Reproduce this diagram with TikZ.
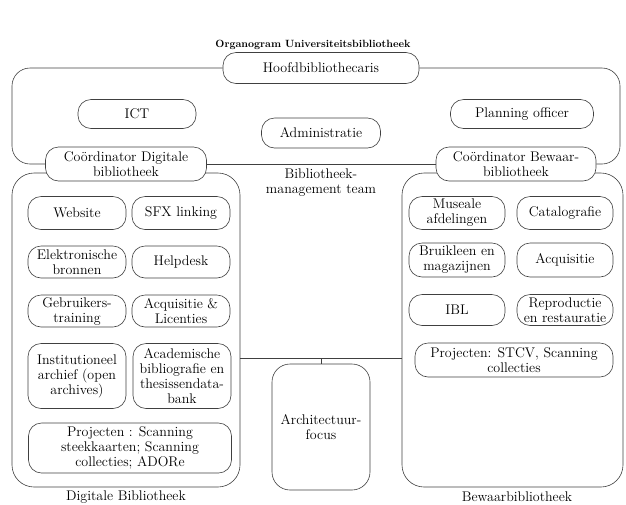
\documentclass[tikz,border=0pt]{standalone}
\usepackage{fontspec}
\newcommand\orgfont{\fontsize{14}{15}\selectfont}
\begin{document}
\begin{tikzpicture}[x=1pt,y=-1pt, line width=0.6pt,
  box/.style={draw=black!75, fill=white, rounded corners=13pt, align=center, inner sep=1pt, font=\orgfont},
  frame/.style={draw=black!75, rounded corners=22pt, inner sep=0pt},
  lbl/.style={align=center, font=\orgfont, inner sep=0pt},
  link/.style={draw=black!75}]
\useasboundingbox (0,0) rectangle (626,504);
\node[font=\fontsize{10.5}{12}\selectfont\bfseries] (title) at (313,45) {Organogram Universiteitsbibliotheek};

% frames
\node[frame, minimum width=228pt, minimum height=314pt] (dig) at (126,330) {};
\node[frame, minimum width=221pt, minimum height=314pt] (bew) at (512.5,330) {};
\node[lbl] (digl) at (126,497) {Digitale Bibliotheek};
\node[lbl] (bewl) at (517,497) {Bewaarbibliotheek};

% management
\node[box, minimum width=196pt, minimum height=31pt] (hoofd) at (321,68) {Hoofdbibliothecaris};
\node[box, minimum width=118pt, minimum height=29pt] (ict) at (137,114) {ICT};
\node[box, minimum width=143pt, minimum height=29pt] (plan) at (522,114) {Planning officer};
\node[box, minimum width=119pt, minimum height=30pt] (admin) at (321,133) {Administratie};
\node[box, minimum width=161pt, minimum height=34pt] (cdig) at (126,164) {Coördinator Digitale\\bibliotheek};
\node[box, minimum width=160pt, minimum height=34pt] (cbew) at (516,164) {Coördinator Bewaar-\\bibliotheek};
\node[lbl] (mt) at (321,183) {Bibliotheek-\\management team};

\draw[link, rounded corners=18pt] (hoofd.west) -- (12,68) -- (12,164) -- (cdig.west);
\draw[link] (cdig.east) -- (cbew.west);
\draw[link, rounded corners=18pt] (cbew.east) -- (620,164) -- (620,68) -- (hoofd.east);

% digitale bibliotheek
\node[box, minimum width=98pt, minimum height=33pt] (web) at (77,213) {Website};
\node[box, minimum width=98pt, minimum height=33pt] (sfx) at (181,213) {SFX linking};
\node[box, minimum width=98pt, minimum height=32pt] (elek) at (77,262) {Elektronische\\bronnen};
\node[box, minimum width=98pt, minimum height=32pt] (help) at (181,262) {Helpdesk};
\node[box, minimum width=98pt, minimum height=32pt] (gebr) at (77,311) {Gebruikers-\\training};
\node[box, minimum width=98pt, minimum height=32pt] (acq) at (181,311) {Acquisitie \&\\Licenties};
\node[box, minimum width=98pt, minimum height=65pt] (inst) at (77,376) {Institutioneel\\archief (open\\archives)};
\node[box, minimum width=98pt, minimum height=65pt] (acad) at (182,376) {Academische\\bibliografie en\\thesissendata-\\bank};
\node[box, minimum width=203pt, minimum height=50pt] (proj) at (130,448) {Projecten : Scanning\\steekkaarten; Scanning\\collecties; ADORe};

% bewaarbibliotheek
\node[box, minimum width=96pt, minimum height=33pt] (mus) at (457,213) {Museale\\afdelingen};
\node[box, minimum width=96pt, minimum height=33pt] (cat) at (565,213) {Catalografie};
\node[box, minimum width=96pt, minimum height=34pt] (bruik) at (457,260) {Bruikleen en\\magazijnen};
\node[box, minimum width=96pt, minimum height=34pt] (acqr) at (565,260) {Acquisitie};
\node[box, minimum width=96pt, minimum height=31pt] (ibl) at (457,310) {IBL};
\node[box, minimum width=96pt, minimum height=31pt] (repro) at (565,310) {Reproductie\\en restauratie};
\node[box, minimum width=198pt, minimum height=34pt] (projr) at (514,360) {Projecten: STCV, Scanning\\collecties};

% architectuurfocus
\node[box, rounded corners=18pt, minimum width=98pt, minimum height=126pt] (arch) at (321,427) {Architectuur-\\focus};
\coordinate (j) at (321,358);
\draw[link] (dig.east |- j) -- (bew.west |- j);
\draw[link] (j) -- (arch.north);
\end{tikzpicture}
\end{document}
